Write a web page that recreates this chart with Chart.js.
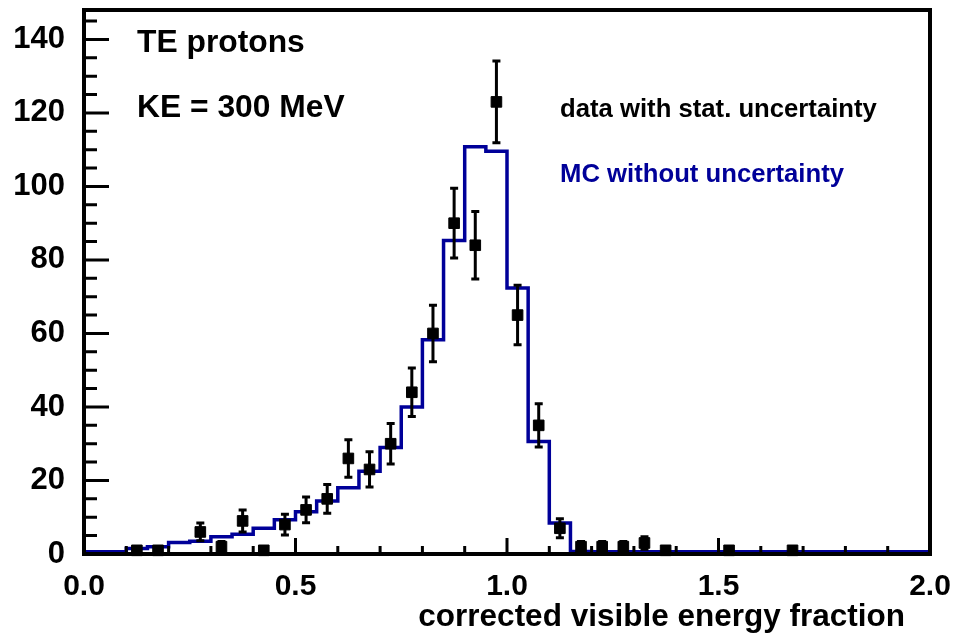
<!DOCTYPE html>
<html>
<head>
<meta charset="utf-8">
<script src="https://cdn.jsdelivr.net/npm/chart.js@4.4.1/dist/chart.umd.min.js"></script>
<style>
  html, body { margin: 0; padding: 0; background: #fff; }
</style>
</head>
<body>
<canvas id="c" width="954" height="635"></canvas>
<script>
// bins of 0.05 from 0 to 2
const binLow = [0.00, 0.05, 0.10, 0.15, 0.20, 0.25, 0.30, 0.35, 0.40, 0.45,
                0.50, 0.55, 0.60, 0.65, 0.70, 0.75, 0.80, 0.85, 0.90, 0.95,
                1.00, 1.05, 1.10, 1.15, 1.20, 1.25, 1.30, 1.35, 1.40, 1.45,
                1.50, 1.55, 1.60, 1.65, 1.70, 1.75, 1.80, 1.85, 1.90, 1.95];
const binHigh = 2.0;

// MC histogram (no uncertainty)
const mcValues = [0.6, 0.6, 1.5, 2.0, 3.1, 3.5, 4.7, 5.4, 7.0, 9.3,
                  11.5, 14.4, 18.0, 22.5, 29.0, 40.0, 58.3, 85.3, 110.8, 109.6,
                  72.4, 30.6, 8.4, 0.7, 0.6, 0.6, 0.6, 0.6, 0.6, 0.6,
                  0.6, 0.6, 0.6, 0.6, 0.6, 0.6, 0.6, 0.6, 0.6, 0.6];

// data points (non-empty bins only)
const dataX = [0.125, 0.175, 0.275, 0.325, 0.375, 0.425, 0.475, 0.525, 0.575, 0.625,
               0.675, 0.725, 0.775, 0.825, 0.875, 0.925, 0.975, 1.025, 1.075, 1.125,
               1.175, 1.225, 1.275, 1.325, 1.375, 1.525, 1.675];
const dataY = [1, 1, 6, 2, 9, 1, 8, 12, 15, 26,
               23, 30, 44, 60, 90, 84, 123, 65, 35, 7,
               2, 2, 2, 3, 1, 1, 1];
const dataErr = [1.0, 1.0, 2.4, 1.4, 3.0, 1.0, 2.8, 3.5, 3.9, 5.1,
                 4.8, 5.5, 6.6, 7.7, 9.5, 9.2, 11.1, 8.1, 5.9, 2.6,
                 1.4, 1.4, 1.4, 1.7, 1.0, 1.0, 1.0];

const xTickValues = [0, 0.5, 1.0, 1.5, 2.0];
const xTickLabels = ['0.0', '0.5', '1.0', '1.5', '2.0'];
const yTickValues = [0, 20, 40, 60, 80, 100, 120, 140];

const MC_COLOR = '#000099';
const FONT = '"Liberation Sans", Arial, Helvetica, sans-serif';

const mcPoints = binLow.map((x, i) => ({ x: x, y: mcValues[i] }));
mcPoints.push({ x: binHigh, y: mcValues[mcValues.length - 1] });
const dataPoints = dataX.map((x, i) => ({ x: x, y: dataY[i] }));

// ROOT style: error bars, frame, inner ticks and the text boxes
const rootFrame = {
  id: 'rootFrame',
  afterDatasetsDraw(chart) {
    const { ctx, chartArea: a, scales: { x, y } } = chart;
    ctx.save();

    // error bars
    ctx.strokeStyle = '#000';
    ctx.lineWidth = 3;
    dataX.forEach((xv, i) => {
      const px = x.getPixelForValue(xv);
      const top = y.getPixelForValue(dataY[i] + dataErr[i]);
      const bot = y.getPixelForValue(Math.max(0, dataY[i] - dataErr[i]));
      ctx.beginPath();
      ctx.moveTo(px, top); ctx.lineTo(px, bot);
      ctx.moveTo(px - 4, top); ctx.lineTo(px + 4, top);
      ctx.moveTo(px - 4, bot); ctx.lineTo(px + 4, bot);
      ctx.stroke();
    });

    // ticks inside the frame
    ctx.lineWidth = 3;
    ctx.beginPath();
    for (let v = 0; v <= 147; v += 5) {
      const py = y.getPixelForValue(v);
      const len = v % 20 === 0 ? 25 : 13;
      ctx.moveTo(a.left, py); ctx.lineTo(a.left + len, py);
    }
    for (let k = 0; k <= 20; k++) {
      const px = x.getPixelForValue(k / 10);
      const len = k % 5 === 0 ? 16 : 8;
      ctx.moveTo(px, a.bottom); ctx.lineTo(px, a.bottom - len);
    }
    ctx.stroke();

    // frame
    ctx.lineWidth = 4;
    ctx.strokeRect(a.left, a.top, a.right - a.left, a.bottom - a.top);

    // texts
    ctx.textBaseline = 'alphabetic';
    ctx.textAlign = 'left';
    ctx.fillStyle = '#000';
    ctx.font = 'bold 31.8px ' + FONT;
    ctx.fillText('TE protons', 137, 52);
    ctx.fillText('KE = 300 MeV', 137, 117);

    ctx.font = 'bold 25.7px ' + FONT;
    ctx.fillText('data with stat. uncertainty', 560, 117);
    ctx.fillStyle = MC_COLOR;
    ctx.fillText('MC without uncertainty', 560, 182);

    ctx.fillStyle = '#000';
    ctx.font = 'bold 31.5px ' + FONT;
    ctx.textAlign = 'right';
    ctx.fillText('corrected visible energy fraction', 905, 626);
    ctx.restore();
  }
};

new Chart(document.getElementById('c').getContext('2d'), {
  type: 'scatter',
  data: {
    datasets: [
      {
        type: 'line',
        label: 'MC without uncertainty',
        data: mcPoints,
        stepped: 'before',
        borderColor: MC_COLOR,
        borderWidth: 3.5,
        pointRadius: 0,
        fill: false,
        order: 2
      },
      {
        type: 'scatter',
        label: 'data with stat. uncertainty',
        data: dataPoints,
        pointStyle: 'rect',
        pointRadius: 7.5,
        backgroundColor: '#000',
        borderColor: '#000',
        borderWidth: 1,
        clip: false,
        order: 1
      }
    ]
  },
  options: {
    responsive: false,
    animation: false,
    layout: { padding: { left: 0, right: 24, top: 10, bottom: 0 } },
    plugins: { legend: { display: false }, tooltip: { enabled: false } },
    scales: {
      x: {
        type: 'linear', min: 0, max: 2,
        grid: { display: false, drawTicks: false }, border: { display: false },
        afterBuildTicks: s => { s.ticks = xTickValues.map(v => ({ value: v })); },
        ticks: {
          callback: (v, i) => xTickLabels[i],
          font: { family: FONT, size: 30, weight: 'bold' },
          color: '#000', padding: 15, maxRotation: 0, autoSkip: false
        },
        afterFit: s => { s.height = 81; s.paddingLeft = 0; s.paddingRight = 0; }
      },
      y: {
        type: 'linear', min: 0, max: 148,
        grid: { display: false, drawTicks: false }, border: { display: false },
        afterBuildTicks: s => { s.ticks = yTickValues.map(v => ({ value: v })); },
        ticks: {
          callback: v => String(v),
          font: { family: FONT, size: 31, weight: 'bold' },
          color: '#000', padding: 19
        },
        afterFit: s => { s.width = 84; s.paddingTop = 0; s.paddingBottom = 0; }
      }
    }
  },
  plugins: [rootFrame]
});
</script>
</body>
</html>
